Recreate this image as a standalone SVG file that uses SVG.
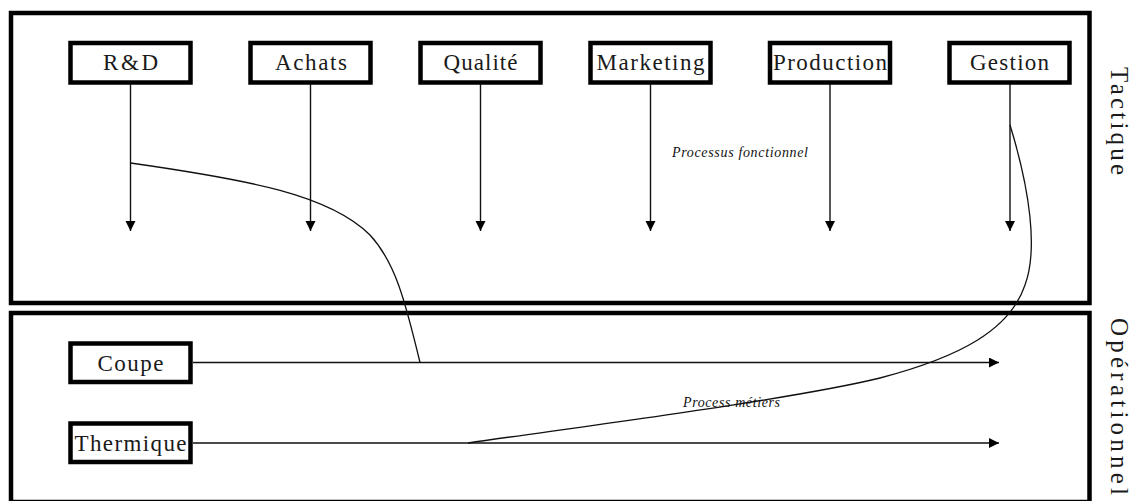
<svg xmlns="http://www.w3.org/2000/svg" width="1143" height="501" viewBox="0 0 1143 501">
<style>
.frame{fill:none;stroke:#000;stroke-width:4.5}
.box{fill:#fff;stroke:#000;stroke-width:4.5}
.lbl{font-family:"Liberation Serif","Times New Roman",serif;font-size:23px;fill:#1a1a1a;text-anchor:middle}
.side{font-family:"Liberation Serif","Times New Roman",serif;font-size:25px;fill:#1a1a1a}
.small{font-family:"Liberation Serif","Times New Roman",serif;font-size:14px;font-style:italic;fill:#111}
.arr{fill:none;stroke:#111;stroke-width:1.4;marker-end:url(#ah)}
.crv{fill:none;stroke:#111;stroke-width:1.3}
</style>
<defs>
<marker id="ah" markerUnits="userSpaceOnUse" markerWidth="12" markerHeight="12" refX="10" refY="5" orient="auto">
<path d="M0,0 L10,5 L0,10 z" fill="#000"/>
</marker>
</defs>
<rect width="1143" height="501" fill="#fff"/>
<g id="zone-tactique">
<rect class="frame" x="11" y="13" width="1078.5" height="290"/>
<text class="side" transform="translate(1111,67) rotate(90)" textLength="108" lengthAdjust="spacing">Tactique</text>
</g>
<g id="zone-operationnel">
<rect class="frame" x="11" y="313" width="1078.5" height="189"/>
<text class="side" transform="translate(1111,318) rotate(90)" textLength="177" lengthAdjust="spacing">Opérationnel</text>
</g>
<g id="connectors">
<line class="arr" x1="130.5" y1="84" x2="130.5" y2="231"/>
<line class="arr" x1="310.5" y1="84" x2="310.5" y2="231"/>
<line class="arr" x1="480.5" y1="84" x2="480.5" y2="231"/>
<line class="arr" x1="650.5" y1="84" x2="650.5" y2="231"/>
<line class="arr" x1="830" y1="84" x2="830" y2="231"/>
<line class="arr" x1="1010" y1="84" x2="1010" y2="231"/>
<line class="arr" x1="193" y1="362.5" x2="999" y2="362.5"/>
<line class="arr" x1="193" y1="443" x2="999" y2="443"/>
<path class="crv" d="M130.5,163 C250,180 330,195 370,235 C395,262 405,300 420,362.5"/>
<path class="crv" d="M1010,125 C1030,190 1038,250 1025,285 C1010,330 960,357 880,378 C790,400 570,428 468,443"/>
<text class="small" x="672" y="157" textLength="136" lengthAdjust="spacing">Processus fonctionnel</text>
<text class="small" x="683" y="407" textLength="97" lengthAdjust="spacing">Process métiers</text>
</g>
<g id="node-rd">
<rect class="box" x="70.5" y="43" width="120" height="39.5"/>
<text class="lbl" x="130.5" y="70" textLength="55" lengthAdjust="spacing">R&amp;D</text>
</g>
<g id="node-achats">
<rect class="box" x="250.5" y="43" width="120" height="39.5"/>
<text class="lbl" x="311" y="70" textLength="72" lengthAdjust="spacing">Achats</text>
</g>
<g id="node-qualite">
<rect class="box" x="420.5" y="43" width="120" height="39.5"/>
<text class="lbl" x="480.5" y="70" textLength="74" lengthAdjust="spacing">Qualité</text>
</g>
<g id="node-marketing">
<rect class="box" x="590.5" y="43" width="120" height="39.5"/>
<text class="lbl" x="650.5" y="70" textLength="108" lengthAdjust="spacing">Marketing</text>
</g>
<g id="node-production">
<rect class="box" x="770" y="43" width="120" height="39.5"/>
<text class="lbl" x="830" y="70" textLength="114" lengthAdjust="spacing">Production</text>
</g>
<g id="node-gestion">
<rect class="box" x="949.5" y="43" width="120" height="39.5"/>
<text class="lbl" x="1009.5" y="70" textLength="79" lengthAdjust="spacing">Gestion</text>
</g>
<g id="node-coupe">
<rect class="box" x="70.5" y="343.5" width="120" height="38.5"/>
<text class="lbl" x="130.5" y="371" textLength="66" lengthAdjust="spacing">Coupe</text>
</g>
<g id="node-thermique">
<rect class="box" x="70.5" y="423.5" width="120" height="38.5"/>
<text class="lbl" x="130.5" y="451" textLength="112" lengthAdjust="spacing">Thermique</text>
</g>
</svg>
